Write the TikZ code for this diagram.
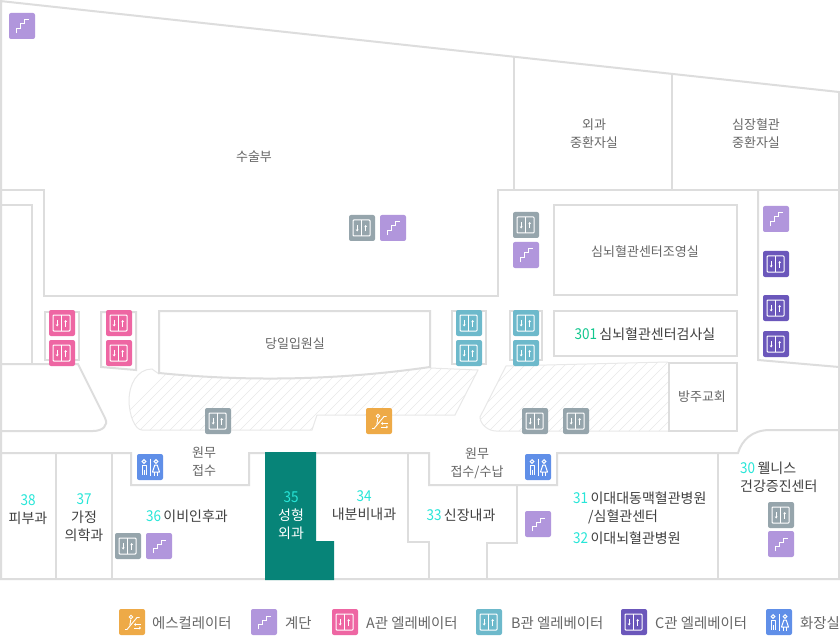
\documentclass[tikz,border=0pt]{standalone}
\usepackage{fontspec}
\setmainfont{Noto Sans CJK KR}
\newfontfamily\numfont[FakeStretch=0.9]{Noto Sans CJK KR}
\definecolor{wallc}{HTML}{DDDDDD}
\definecolor{hatchc}{HTML}{E8E8E8}
\definecolor{txtc}{HTML}{666666}
\definecolor{darkc}{HTML}{404040}
\definecolor{numc}{HTML}{28E6D8}
\definecolor{numg}{HTML}{12C78E}
\definecolor{tealc}{HTML}{078478}
\definecolor{grayi}{HTML}{96A5AC}
\definecolor{pinki}{HTML}{EE66A3}
\definecolor{bluei}{HTML}{6DB9CB}
\definecolor{purpi}{HTML}{6B57BB}
\definecolor{lilac}{HTML}{B196DC}
\definecolor{orangei}{HTML}{EEAA47}
\definecolor{wci}{HTML}{608FE8}
\newcommand{\num}[1]{{\numfont\fontsize{15}{18}\selectfont\textcolor{numc}{#1}}}
\newcommand{\numsp}{\kern-0.8pt\ }
\tikzset{
 wall/.style={draw=wallc,line width=2pt,line join=miter},
 lbl/.style={inner sep=0pt,align=center,text=txtc,font=\fontsize{13}{18}\selectfont},
 dlbl/.style={inner sep=0pt,align=center,text=darkc,font=\fontsize{14}{18}\selectfont},
 leg/.style={inner sep=0pt,anchor=west,text=txtc,font=\fontsize{14.4}{18}\selectfont},
 edge/.style={draw=hatchc,line width=1pt},
 icl/.style={white,line width=1pt},
 arr/.style={white,line width=0.9pt,-{Stealth[length=2.2pt,width=3pt]}},
 elevicon/.pic={
  \fill[#1,rounded corners=2pt] (0,0) rectangle (26,26);
  \draw[icl,rounded corners=0.8pt] (4,5) rectangle (21,21);
  \draw[icl] (12.5,5) -- (12.5,21);
  \draw[arr] (8.2,10) -- (8.2,16.5);
  \draw[arr] (16.7,16.5) -- (16.7,10);
 },
 stairicon/.pic={
  \fill[lilac,rounded corners=2pt] (0,0) rectangle (26,26);
  \draw[icl] (7,20.3) -- (7,15.3) -- (11.7,15.3) -- (11.7,11) -- (15,11) -- (15,7) -- (20,7);
 },
 wcicon/.pic={
  \fill[wci,rounded corners=2pt] (0,0) rectangle (26,26);
  \draw[icl] (13,4.5) -- (13,21.5);
  \draw[icl] (7,7.5) circle (1.8);
  \draw[icl,line join=round] (5,21) -- (5,11) -- (9,11) -- (9,21) (7,16) -- (7,21);
  \draw[icl] (19,7.5) circle (1.8);
  \draw[icl,line join=round] (17.8,11) -- (20.2,11) -- (22.5,18) -- (15.5,18) -- cycle;
  \draw[icl] (17.8,18) -- (17.8,21.5) (20.2,18) -- (20.2,21.5);
 },
 esicon/.pic={
  \fill[orangei,rounded corners=2pt] (0,0) rectangle (26,26);
  \draw[icl,line width=0.9pt] (6,20.5) -- (8,20.5) -- (18,8.5) -- (20.5,8.5);
  \draw[icl,line width=0.9pt] (12,8) circle (1.8);
  \draw[icl,line width=0.9pt] (11.8,10.5) -- (10.8,16.5);
  \draw[white,line width=0.8pt,-{Stealth[length=2pt,width=3pt]}] (22,15.5) -- (15,15.5);
  \draw[white,line width=0.8pt,-{Stealth[length=2pt,width=3pt]}] (15,19) -- (22,19);
 },
}
\usetikzlibrary{arrows.meta}
\begin{document}
\begin{tikzpicture}[x=1pt,y=-1pt]
\useasboundingbox (0,0) rectangle (840,636);
\fill[white] (0,0) rectangle (840,636);

% hatched zones
\begin{scope}
 \clip (152,369) .. controls (137,369) and (129,385) .. (129,400) .. controls (129,415) and (135,430) .. (142,430)
   -- (312,430) -- (317,415) -- (455,415) -- (478,370) -- (430,368)
   .. controls (340,380) and (250,380) .. (159,374) -- cycle;
 \foreach \k in {0,10,...,520}{ \draw[hatchc,line width=0.6pt] (\k+100,440) -- (\k+190,350); }
\end{scope}
\draw[edge] (159,374) -- (152,369) .. controls (137,369) and (129,385) .. (129,400) .. controls (129,415) and (135,430) .. (142,430)
   -- (312,430) -- (317,415) -- (455,415) -- (478,370) -- (430,368);
\begin{scope}
 \clip (506,366) -- (668,362) -- (668,431) -- (496,431) .. controls (488,431) and (480,424) .. (480,417) -- cycle;
 \foreach \k in {0,10,...,300}{ \draw[hatchc,line width=0.6pt] (\k+420,440) -- (\k+510,350); }
\end{scope}
\draw[edge] (668,362) -- (506,366) -- (480,417) .. controls (480,424) and (488,431) .. (496,431) -- (668,431);

% outer walls and upper floor
\draw[wall] (0,1) -- (839,92) -- (839,579) -- (1,579) -- (1,1);
\draw[wall] (1,190) -- (44,190) -- (44,296) -- (498,296) -- (498,190) -- (839,190);
\draw[wall] (514,57) -- (514,190);
\draw[wall] (672,74) -- (672,190);
\draw[wall] (1,205) -- (32,205) -- (32,364);
\draw[wall] (1,364) -- (78,364) -- (105,418) .. controls (109,426) and (102,431) .. (93,431) -- (1,431);
% elevator alcoves
\draw[wall] (79,312) -- (45,312) -- (45,360) -- (79,360) -- cycle;
\draw[wall] (101,312) -- (136,312) -- (136,370) -- (101,367) -- cycle;
\draw[wall] (452,311) -- (486,311) -- (486,364) -- (452,364) -- cycle;
\draw[wall] (510,311) -- (542,311) -- (542,360) -- (510,360) -- cycle;
% rooms
\draw[wall] (159,311) -- (430,311) -- (430,367) .. controls (340,380) and (250,382) .. (159,373) -- cycle;
\draw[wall] (554,205) rectangle (737,295);
\draw[wall] (554,311) rectangle (737,356);
\draw[wall] (669,363) rectangle (737,431);
\draw[wall] (758,190) -- (758,360) -- (839,367);
% lower wing
\draw[wall] (1,453) -- (131,453) -- (131,485) -- (249,485) -- (249,453) -- (408,453) -- (429,453) -- (429,485) -- (557,485) -- (557,453) -- (738,453)
  .. controls (742,440) and (752,430) .. (770,430) -- (839,430);
\draw[wall] (56,453) -- (56,579);
\draw[wall] (112,453) -- (112,579);
\draw[wall] (408,453) -- (408,542) -- (429,542) -- (429,579);
\draw[wall] (517,485) -- (517,543) -- (487,543) -- (487,579);
\draw[wall] (718,453) -- (718,579);
\fill[tealc] (265,452) -- (316,452) -- (316,541) -- (334,541) -- (334,580) -- (265,580) -- cycle;

% icons
\foreach \x/\y in {9/13,380/215,513/242,763/206,146/533,525/511,768/531,251/609}{ \pic at (\x,\y) {stairicon}; }
\foreach \x/\y in {349/215,513/212,205/408,522/408,563/408,115/533,768/502}{ \pic at (\x,\y) {elevicon=grayi}; }
\foreach \x/\y in {49/310,49/340,106/310,106/340,332/609}{ \pic at (\x,\y) {elevicon=pinki}; }
\foreach \x/\y in {456/310,456/340,513/310,513/340,476/609}{ \pic at (\x,\y) {elevicon=bluei}; }
\foreach \x/\y in {763/251,763/295,763/331,621/609}{ \pic at (\x,\y) {elevicon=purpi}; }
\foreach \x/\y in {137/454,525/454,766/609}{ \pic at (\x,\y) {wcicon}; }
\foreach \x/\y in {366/408,119/609}{ \pic at (\x,\y) {esicon}; }

% room labels
\node[lbl] (r1) at (254,157) {수술부};
\node[lbl] (r2) at (594,134) {외과\\중환자실};
\node[lbl] (r3) at (756,134) {심장혈관\\중환자실};
\node[lbl] (r4) at (645,252) {심뇌혈관센터조영실};
\node[dlbl] (r5) at (645,334.5) {\textcolor{numg}{\numfont\fontsize{15}{18}\selectfont 301}\numsp 심뇌혈관센터검사실};
\node[lbl] (r6) at (295,344) {당일입원실};
\node[lbl] (r7) at (702,397) {방주교회};
\node[lbl] (r8) at (204,462) {원무\\접수};
\node[lbl] (r9) at (477,463) {원무\\접수/수납};
\node[dlbl] (r10) at (28,510) {\num{38}\\피부과};
\node[dlbl] (r11) at (84,518) {\num{37}\\가정\\의학과};
\node[dlbl] (r12) at (187,516) {\num{36}\numsp 이비인후과};
\node[dlbl,text=white] (r13) at (291,516) {\num{35}\\성형\\외과};
\node[dlbl] (r14) at (364,506) {\num{34}\\내분비내과};
\node[dlbl] (r15) at (461,515) {\num{33}\numsp 신장내과};
\node[dlbl,anchor=west] (r16) at (573,498) {\num{31}\numsp 이대대동맥혈관병원};
\node[dlbl,anchor=west] (r17) at (588,516.5) {/심혈관센터};
\node[dlbl,anchor=west] (r18) at (573,538) {\num{32}\numsp 이대뇌혈관병원};
\node[dlbl,anchor=west] (r19) at (740,468) {\num{30}\numsp 웰니스};
\node[dlbl,anchor=west] (r20) at (740,486) {건강증진센터};

% legend labels
\node[leg] (l1) at (152,623) {에스컬레이터};
\node[leg] (l2) at (285,623) {계단};
\node[leg] (l3) at (366,623) {A관 엘레베이터};
\node[leg] (l4) at (511,623) {B관 엘레베이터};
\node[leg] (l5) at (655,623) {C관 엘레베이터};
\node[leg] (l6) at (800,623) {화장실};
\end{tikzpicture}
\end{document}
